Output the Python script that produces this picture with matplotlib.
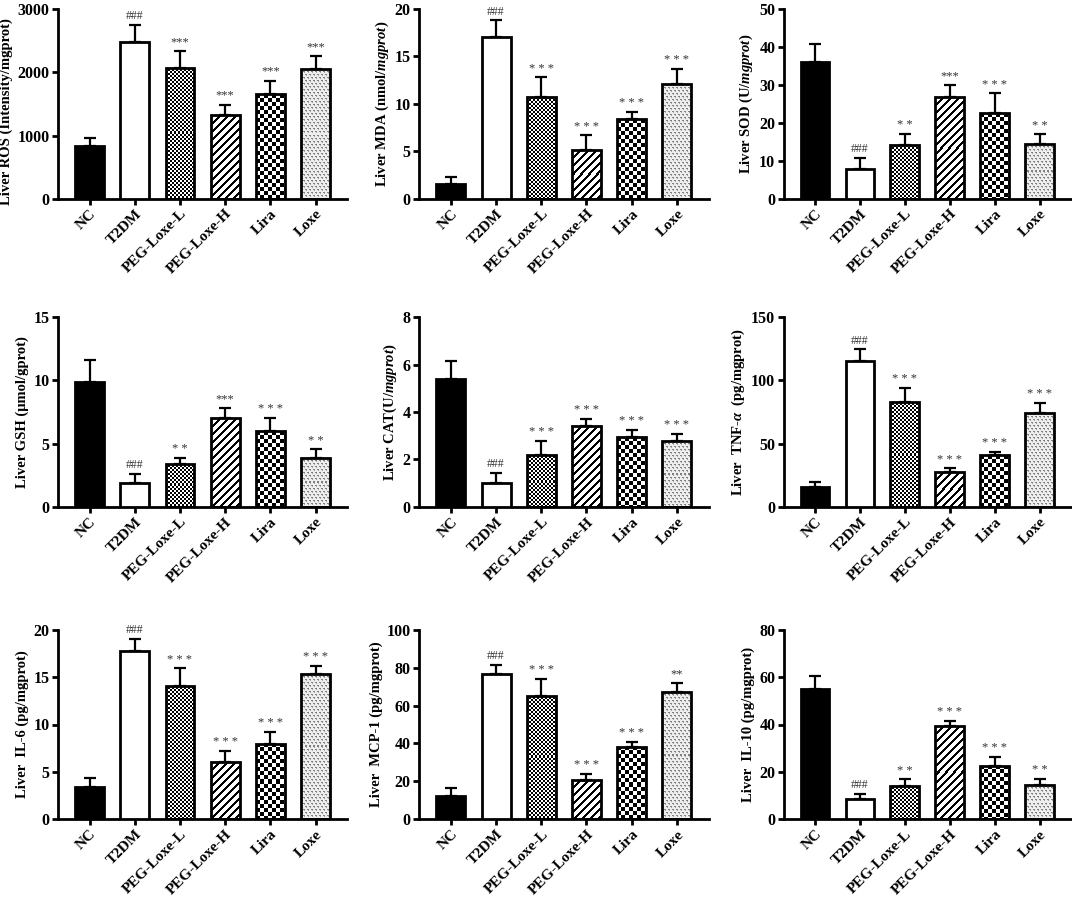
import numpy as np
import matplotlib
matplotlib.use('Agg')
from matplotlib import pyplot as plt

plt.rcParams['font.family'] = 'Liberation Serif'
plt.rcParams['font.weight'] = 'bold'
plt.rcParams['mathtext.fontset'] = 'custom'
plt.rcParams['mathtext.rm'] = 'Liberation Serif:bold'
plt.rcParams['mathtext.it'] = 'Liberation Serif:italic:bold'

groups = ['NC', 'T2DM', 'PEG-Loxe-L', 'PEG-Loxe-H', 'Lira', 'Loxe']

ros_mean = [840, 2480, 2070, 1320, 1650, 2060]
ros_err = [120, 270, 260, 170, 220, 200]
ros_sig = ['', '###', '***', '***', '***', '***']

mda_mean = [1.6, 17.0, 10.7, 5.2, 8.4, 12.1]
mda_err = [0.7, 1.8, 2.1, 1.5, 0.8, 1.6]
mda_sig = ['', '###', '* * *', '* * *', '* * *', '* * *']

sod_mean = [36.0, 7.8, 14.2, 26.9, 22.6, 14.5]
sod_err = [4.7, 2.9, 3.0, 3.0, 5.2, 2.5]
sod_sig = ['', '###', '* *', '***', '* * *', '* *']

gsh_mean = [9.9, 1.9, 3.4, 7.0, 6.0, 3.9]
gsh_err = [1.7, 0.7, 0.45, 0.8, 1.05, 0.65]
gsh_sig = ['', '###', '* *', '***', '* * *', '* *']

cat_mean = [5.4, 1.0, 2.2, 3.4, 2.93, 2.8]
cat_err = [0.75, 0.45, 0.6, 0.32, 0.33, 0.28]
cat_sig = ['', '###', '* * *', '* * *', '* * *', '* * *']

tnf_mean = [16, 115, 83, 28, 41, 74]
tnf_err = [3.5, 9.5, 11, 2.5, 2.8, 8]
tnf_sig = ['', '###', '* * *', '* * *', '* * *', '* * *']

il6_mean = [3.4, 17.7, 14.1, 6.1, 7.9, 15.3]
il6_err = [1.0, 1.3, 1.8, 1.1, 1.3, 0.9]
il6_sig = ['', '###', '* * *', '* * *', '* * *', '* * *']

mcp_mean = [12.5, 76.5, 65, 21, 38, 67]
mcp_err = [4, 4.8, 9, 2.8, 2.8, 5]
mcp_sig = ['', '###', '* * *', '* * *', '* * *', '**']

il10_mean = [54.8, 8.7, 14.2, 39.2, 22.6, 14.5]
il10_err = [5.5, 2.2, 2.7, 2.4, 3.6, 2.7]
il10_sig = ['', '###', '* *', '* * *', '* * *', '* *']

panels = [
    (ros_mean, ros_err, ros_sig, 'Liver ROS (Intensity/mgprot)', [0, 1000, 2000, 3000]),
    (mda_mean, mda_err, mda_sig, r'Liver MDA (nmol/$\mathit{mgprot}$)', [0, 5, 10, 15, 20]),
    (sod_mean, sod_err, sod_sig, r'Liver SOD (U/$\mathit{mgprot}$)', [0, 10, 20, 30, 40, 50]),
    (gsh_mean, gsh_err, gsh_sig, 'Liver GSH (\u03bcmol/gprot)', [0, 5, 10, 15]),
    (cat_mean, cat_err, cat_sig, r'Liver CAT(U/$\mathit{mgprot}$)', [0, 2, 4, 6, 8]),
    (tnf_mean, tnf_err, tnf_sig, r'Liver  TNF-$\alpha$  (pg/mgprot)', [0, 50, 100, 150]),
    (il6_mean, il6_err, il6_sig, 'Liver  IL-6 (pg/mgprot)', [0, 5, 10, 15, 20]),
    (mcp_mean, mcp_err, mcp_sig, 'Liver  MCP-1 (pg/mgprot)', [0, 20, 40, 60, 80, 100]),
    (il10_mean, il10_err, il10_sig, 'Liver  IL-10 (pg/mgprot)', [0, 20, 40, 60, 80]),
]

patterns = ['solid_black', 'solid_white', 'fine_check', 'stripes', 'check', 'dots']


def fill_pattern(ax, bar, kind):
    # pixel-sized pattern image clipped to the bar
    x0, y0 = bar.get_x(), bar.get_y()
    w, h = bar.get_width(), bar.get_height()
    p0 = ax.transData.transform((x0, y0))
    p1 = ax.transData.transform((x0 + w, y0 + h))
    W = max(int(round(p1[0] - p0[0])), 1)
    H = max(int(round(p1[1] - p0[1])), 1)
    i, j = np.indices((H, W))
    if kind == 'fine_check':
        img = ((i // 2 + j // 2) % 2) * 1.0
    elif kind == 'check':
        img = ((i // 4 + j // 4) % 2) * 1.0
    elif kind == 'stripes':
        img = ((i + j) % 8 >= 3) * 1.0
    else:
        img = np.full((H, W), 0.93)
        img[(i % 3 == 0) & ((j + 2 * ((i // 3) % 2)) % 4 < 2)] = 0.5
        img[(i % 3 == 1) & ((j + 2 * ((i // 3) % 2)) % 4 == 1)] = 0.65
    im = ax.imshow(img, cmap='gray', vmin=0, vmax=1, extent=(x0, x0 + w, y0, y0 + h),
                   origin='upper', aspect='auto', interpolation='nearest', zorder=1)
    im.set_clip_path(bar)


fig = plt.figure(figsize=(10.72, 9), dpi=100)
lefts = [0.054, 0.391, 0.731]
widths = [0.27, 0.27, 0.268]
bottoms = [0.779, 0.4367, 0.0895]
x = np.arange(len(groups))

for k, (mean, err, sig, ylabel, yticks) in enumerate(panels):
    r, c = divmod(k, 3)
    ax = fig.add_axes([lefts[c], bottoms[r], widths[c], 0.211])
    ax.set_xlim(-0.7, 5.7)
    ax.set_ylim(0, yticks[-1])

    ax.errorbar(x, mean, yerr=[np.zeros(len(mean)), err], fmt='none', ecolor='black',
                elinewidth=1.6, capsize=4, capthick=1.6, zorder=2)
    bars = ax.bar(x, mean, width=0.64, edgecolor='black', linewidth=2.0, zorder=3)
    for b, p in zip(bars, patterns):
        if p == 'solid_black':
            b.set_facecolor('black')
        elif p == 'solid_white':
            b.set_facecolor('white')
        else:
            b.set_facecolor('none')
            fill_pattern(ax, b, p)

    for xi, m, e, s in zip(x, mean, err, sig):
        if s:
            fs = 8.5 if s == '###' else 9
            ax.annotate(s, (xi, m + e), xytext=(0, 2), textcoords='offset points',
                        ha='center', va='bottom', fontsize=fs, color='#333333',
                        fontweight='normal')

    ax.set_xlim(-0.7, 5.7)
    ax.set_ylim(0, yticks[-1])
    ax.set_yticks(yticks)
    ax.set_xticks(x)
    ax.set_xticklabels(groups, rotation=45, ha='right', rotation_mode='anchor',
                       fontsize=11, fontweight='bold')
    for t in ax.get_yticklabels():
        t.set_fontsize(11.5)
        t.set_fontweight('bold')
    ax.set_ylabel(ylabel, fontsize=10.5, fontweight='bold', labelpad=3,
                  y=0.46 if k == 0 else 0.5)
    ax.spines['top'].set_visible(False)
    ax.spines['right'].set_visible(False)
    ax.spines['left'].set_linewidth(2)
    ax.spines['bottom'].set_linewidth(2)
    ax.tick_params(axis='both', width=2, length=4, pad=2)

fig.savefig('out.png', dpi=100)
